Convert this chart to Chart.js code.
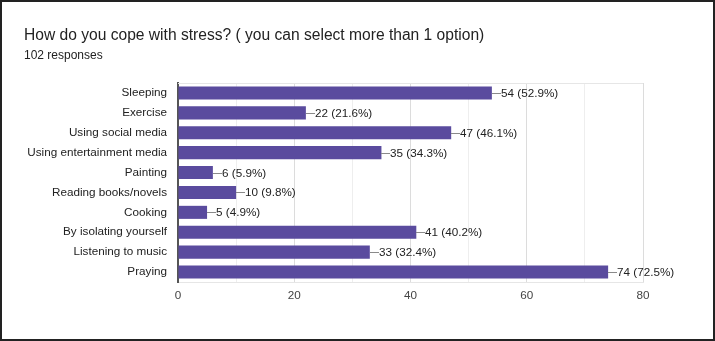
<!DOCTYPE html>
<html>
<head>
<meta charset="utf-8">
<script src="https://cdn.jsdelivr.net/npm/chart.js@4"></script>
<style>
  html, body { margin: 0; padding: 0; background: #fff; }
  #wrap { position: relative; width: 715px; height: 341px; overflow: hidden; }
  #frame { position: absolute; left: 0; top: 0; width: 715px; height: 341px; box-sizing: border-box; border: 2px solid #222; pointer-events: none; }
  #title { position: absolute; left: 24px; top: 26px; font: 15.6px "Liberation Sans", Arial, sans-serif; color: #222; white-space: nowrap; }
  #sub { position: absolute; left: 24px; top: 48px; font: 12px "Liberation Sans", Arial, sans-serif; color: #222; }
</style>
</head>
<body>
<div id="wrap">
  <canvas id="grafico" width="715" height="341"></canvas>
  <div id="title">How do you cope with stress? ( you can select more than 1 option)</div>
  <div id="sub">102 responses</div>
  <div id="frame"></div>
</div>
<script>
const categorias = ["Sleeping", "Exercise", "Using social media", "Using entertainment media", "Painting",
  "Reading books/novels", "Cooking", "By isolating yourself", "Listening to music", "Praying"];
const respostas = [54, 22, 47, 35, 6, 10, 5, 41, 33, 74];
const percentuais = [52.9, 21.6, 46.1, 34.3, 5.9, 9.8, 4.9, 40.2, 32.4, 72.5];
const ticksX = [0, 20, 40, 60, 80];

const fonte = "'Liberation Sans', Arial, sans-serif";

// rotulos no fim das barras
const rotulos = {
  id: "rotulos",
  beforeDatasetsDraw(chart) {
    const ctx = chart.ctx, a = chart.chartArea;
    ctx.save();
    ctx.strokeStyle = "#e6e6e6";
    ctx.lineWidth = 1;
    ctx.beginPath();
    ctx.moveTo(a.left, a.top + 0.5);
    ctx.lineTo(a.right, a.top + 0.5);
    ctx.stroke();
    ctx.restore();
  },
  afterDatasetsDraw(chart) {
    const ctx = chart.ctx;
    const meta = chart.getDatasetMeta(0);
    ctx.save();
    ctx.font = "11.7px " + fonte;
    ctx.textBaseline = "middle";
    meta.data.forEach((bar, i) => {
      const x = Math.round(bar.x), y = Math.round(bar.y) + 0.5;
      ctx.strokeStyle = "#8a8a8a";
      ctx.lineWidth = 1;
      ctx.beginPath();
      ctx.moveTo(x, y);
      ctx.lineTo(x + 9, y);
      ctx.stroke();
      ctx.fillStyle = "#222";
      ctx.fillText(respostas[i] + " (" + percentuais[i] + "%)", x + 9, y);
    });
    ctx.restore();
  }
};

new Chart(document.querySelector("#grafico"), {
  type: "bar",
  data: {
    labels: categorias,
    datasets: [{
      data: respostas,
      backgroundColor: "#5a4b9e",
      borderWidth: 0,
      barPercentage: 0.8,
      categoryPercentage: 0.82
    }]
  },
  options: {
    indexAxis: "y",
    responsive: false,
    animation: false,
    layout: { padding: { top: 83, right: 72, bottom: 29, left: 0 } },
    plugins: { legend: { display: false }, tooltip: { enabled: false } },
    scales: {
      x: {
        min: 0, max: 80,
        afterFit: s => { s.height = 30; },
        afterBuildTicks: s => { s.ticks = [0, 10, 20, 30, 40, 50, 60, 70, 80].map(v => ({ value: v })); },
        ticks: {
          padding: 7,
          color: "#444",
          font: { size: 11.7, family: fonte },
          autoSkip: false,
          maxRotation: 0,
          callback: v => ticksX.includes(v) ? String(v) : ""
        },
        grid: {
          drawTicks: false,
          color: c => (c.tick && c.tick.value % 20 === 0) ? "#dcdcdc" : "#eeeeee"
        },
        border: { color: "#e6e6e6" }
      },
      y: {
        afterFit: s => { s.width = 178; },
        ticks: {
          padding: 11,
          color: "#222",
          font: { size: 11.7, family: fonte },
          autoSkip: false
        },
        grid: { display: false, drawTicks: false },
        border: { display: true, color: "#555", width: 2 }
      }
    }
  },
  plugins: [rotulos]
});
</script>
</body>
</html>
